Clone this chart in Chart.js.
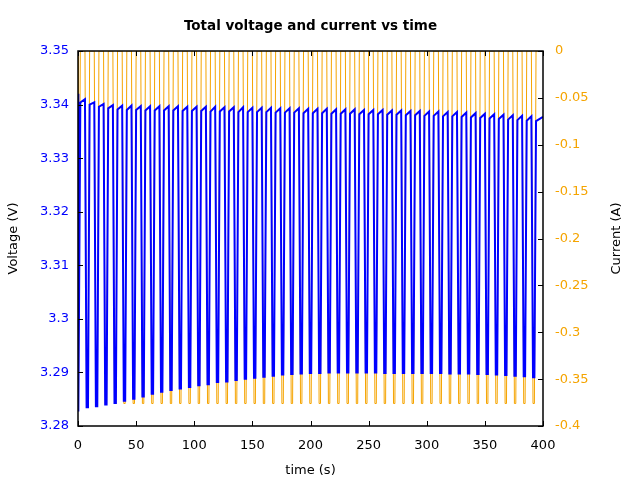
<!DOCTYPE html>
<html>
<head>
    <title>Total voltage and current vs time</title>
    <script src="https://cdn.jsdelivr.net/npm/chart.js"></script>
    <style>
        body { margin: 0; background: #fff; }
        #wrap { width: 640px; height: 480px; }
    </style>
</head>
<body>
    <div id="wrap"><canvas id="myChart" width="640" height="480"></canvas></div>

    <script>
        // centre time of each current pulse (s), one every 8 s
        const pulseCentre = [0, 8, 16, 24, 32, 40, 48, 56, 64, 72, 80, 88, 96, 104, 112, 120, 128, 136, 144, 152,
            160, 168, 176, 184, 192, 200, 208, 216, 224, 232, 240, 248, 256, 264, 272, 280, 288, 296, 304, 312,
            320, 328, 336, 344, 352, 360, 368, 376, 384, 392];
        const edgeTop = 2;          // s from centre where the pulse leaves / returns to rest
        const edgeBottom = 0.6;     // s from centre of the flat bottom
        const pulseCurrent = -0.376; // A
        // voltage right before each pulse (V)
        const peakVoltage = [3.3420, 3.3410, 3.3404, 3.3401, 3.3399, 3.3398, 3.3398, 3.3397, 3.3397, 3.3397,
            3.3397, 3.3397, 3.3396, 3.3396, 3.3396, 3.3396, 3.3395, 3.3395, 3.3395, 3.3394,
            3.3394, 3.3394, 3.3393, 3.3393, 3.3393, 3.3392, 3.3392, 3.3392, 3.3391, 3.3391,
            3.3391, 3.3390, 3.3390, 3.3390, 3.3389, 3.3389, 3.3388, 3.3388, 3.3387, 3.3387,
            3.3386, 3.3386, 3.3385, 3.3384, 3.3383, 3.3382, 3.3381, 3.3380, 3.3379, 3.3378];
        // lowest voltage during each pulse (V)
        const lowVoltage = [3.2827, 3.2835, 3.2837, 3.2840, 3.2843, 3.2847, 3.2851, 3.2855, 3.2860, 3.2864,
            3.2867, 3.2870, 3.2873, 3.2876, 3.2878, 3.2882, 3.2883, 3.2886, 3.2888, 3.2890,
            3.2892, 3.2894, 3.2896, 3.2897, 3.2898, 3.2899, 3.2899, 3.2900, 3.2900, 3.2900,
            3.2900, 3.2900, 3.2900, 3.2899, 3.2899, 3.2899, 3.2899, 3.2899, 3.2899, 3.2899,
            3.2898, 3.2898, 3.2898, 3.2897, 3.2897, 3.2896, 3.2895, 3.2894, 3.2893, 3.2891];
        // voltage right after each pulse ends (V)
        const recoverVoltage = [3.3404, 3.3400, 3.3396, 3.3393, 3.3391, 3.3390, 3.3390, 3.3389, 3.3389, 3.3389,
            3.3389, 3.3388, 3.3388, 3.3388, 3.3387, 3.3387, 3.3387, 3.3386, 3.3386, 3.3386,
            3.3386, 3.3385, 3.3385, 3.3385, 3.3384, 3.3384, 3.3384, 3.3383, 3.3383, 3.3383,
            3.3382, 3.3382, 3.3382, 3.3381, 3.3381, 3.3380, 3.3380, 3.3379, 3.3379, 3.3378,
            3.3378, 3.3377, 3.3376, 3.3375, 3.3374, 3.3373, 3.3372, 3.3371, 3.3370, 3.3369];
        const endTime = 400;
        const endVoltage = 3.3377;

        const xTicks = [0, 50, 100, 150, 200, 250, 300, 350, 400];

        const blue = '#0000ff';
        const orange = '#f5a400';
        const titleText = 'Total voltage and current vs time';
        const rightTitle = 'Current (A)';

        // build the pulse waveforms from the per-pulse values
        const voltagePts = [];
        const currentPts = [];
        pulseCentre.forEach((t, i) => {
            const t0 = Math.max(0, t - edgeTop);
            const t1 = t - edgeBottom < 0 ? t : t - edgeBottom;
            voltagePts.push({ x: t0, y: peakVoltage[i] });
            voltagePts.push({ x: t1, y: lowVoltage[i] });
            voltagePts.push({ x: t + edgeBottom, y: lowVoltage[i] });
            voltagePts.push({ x: t + edgeTop, y: recoverVoltage[i] });
            currentPts.push({ x: t0, y: 0 });
            currentPts.push({ x: t1, y: pulseCurrent });
            currentPts.push({ x: t + edgeBottom, y: pulseCurrent });
            currentPts.push({ x: t + edgeTop, y: 0 });
        });
        voltagePts.push({ x: endTime, y: endVoltage });
        currentPts.push({ x: endTime, y: 0 });

        const fmt = v => parseFloat(v.toFixed(2)).toString();

        // frame, inward ticks, title over the plot area, right axis title
        const decorations = {
            id: 'decorations',
            afterDraw(chart) {
                const ctx = chart.ctx;
                const a = chart.chartArea;
                ctx.save();
                ctx.strokeStyle = '#000';
                ctx.lineWidth = 1;
                ctx.beginPath();
                const sx = chart.scales.x;
                sx.ticks.forEach(t => {
                    const p = Math.round(sx.getPixelForValue(t.value)) + 0.5;
                    ctx.moveTo(p, a.bottom); ctx.lineTo(p, a.bottom - 5);
                    ctx.moveTo(p, a.top); ctx.lineTo(p, a.top + 5);
                });
                const sy = chart.scales.y;
                sy.ticks.forEach(t => {
                    const p = Math.round(sy.getPixelForValue(t.value)) + 0.5;
                    ctx.moveTo(a.left, p); ctx.lineTo(a.left + 5, p);
                });
                const sy2 = chart.scales.y2;
                sy2.ticks.forEach(t => {
                    const p = Math.round(sy2.getPixelForValue(t.value)) + 0.5;
                    ctx.moveTo(a.right, p); ctx.lineTo(a.right - 5, p);
                });
                ctx.stroke();
                ctx.lineWidth = 1.5;
                ctx.strokeRect(a.left, a.top, a.right - a.left, a.bottom - a.top);

                ctx.fillStyle = '#000';
                ctx.textAlign = 'center';
                ctx.textBaseline = 'middle';
                ctx.font = 'bold 13.5px "DejaVu Sans"';
                ctx.fillText(titleText, (a.left + a.right) / 2, 26);

                ctx.font = '13px "DejaVu Sans"';
                ctx.translate(617, (a.top + a.bottom) / 2);
                ctx.rotate(-Math.PI / 2);
                ctx.fillText(rightTitle, 0, 0);
                ctx.restore();
            }
        };

        Chart.defaults.font.family = 'DejaVu Sans';
        Chart.defaults.font.size = 13;
        Chart.defaults.color = '#000';

        const ctx = document.getElementById('myChart').getContext('2d');
        const myChart = new Chart(ctx, {
            type: 'line',
            data: {
                datasets: [{
                    label: 'Current',
                    data: currentPts,
                    yAxisID: 'y2',
                    borderColor: orange,
                    borderWidth: 1,
                    pointRadius: 0,
                    tension: 0,
                    order: 2
                }, {
                    label: 'Voltage',
                    data: voltagePts,
                    yAxisID: 'y',
                    borderColor: blue,
                    borderWidth: 2,
                    pointRadius: 0,
                    tension: 0,
                    order: 1
                }]
            },
            options: {
                responsive: false,
                animation: false,
                layout: { padding: { top: 51, left: 0, right: 0, bottom: 0 } },
                plugins: {
                    legend: { display: false },
                    tooltip: { enabled: false },
                    title: { display: false }
                },
                scales: {
                    x: {
                        type: 'linear',
                        min: 0, max: 400,
                        afterBuildTicks: s => { s.ticks = xTicks.map(v => ({ value: v })); },
                        grid: { display: false },
                        border: { display: false },
                        ticks: { padding: 4, maxRotation: 0 },
                        title: { display: true, text: 'time (s)', padding: { top: 11, bottom: 2 } },
                        afterFit: s => { s.height = 54; }
                    },
                    y: {
                        position: 'left',
                        min: 3.28, max: 3.35,
                        ticks: { stepSize: 0.01, color: blue, padding: 1, callback: fmt },
                        grid: { display: false },
                        border: { display: false },
                        title: { display: true, text: 'Voltage (V)', padding: { top: 6, bottom: 0 } },
                        afterFit: s => { s.width = 78; }
                    },
                    y2: {
                        position: 'right',
                        min: -0.4, max: 0,
                        ticks: { stepSize: 0.05, color: orange, padding: 4, callback: fmt },
                        grid: { display: false },
                        border: { display: false },
                        afterFit: s => { s.width = 97; }
                    }
                }
            },
            plugins: [decorations]
        });
    </script>
</body>
</html>
